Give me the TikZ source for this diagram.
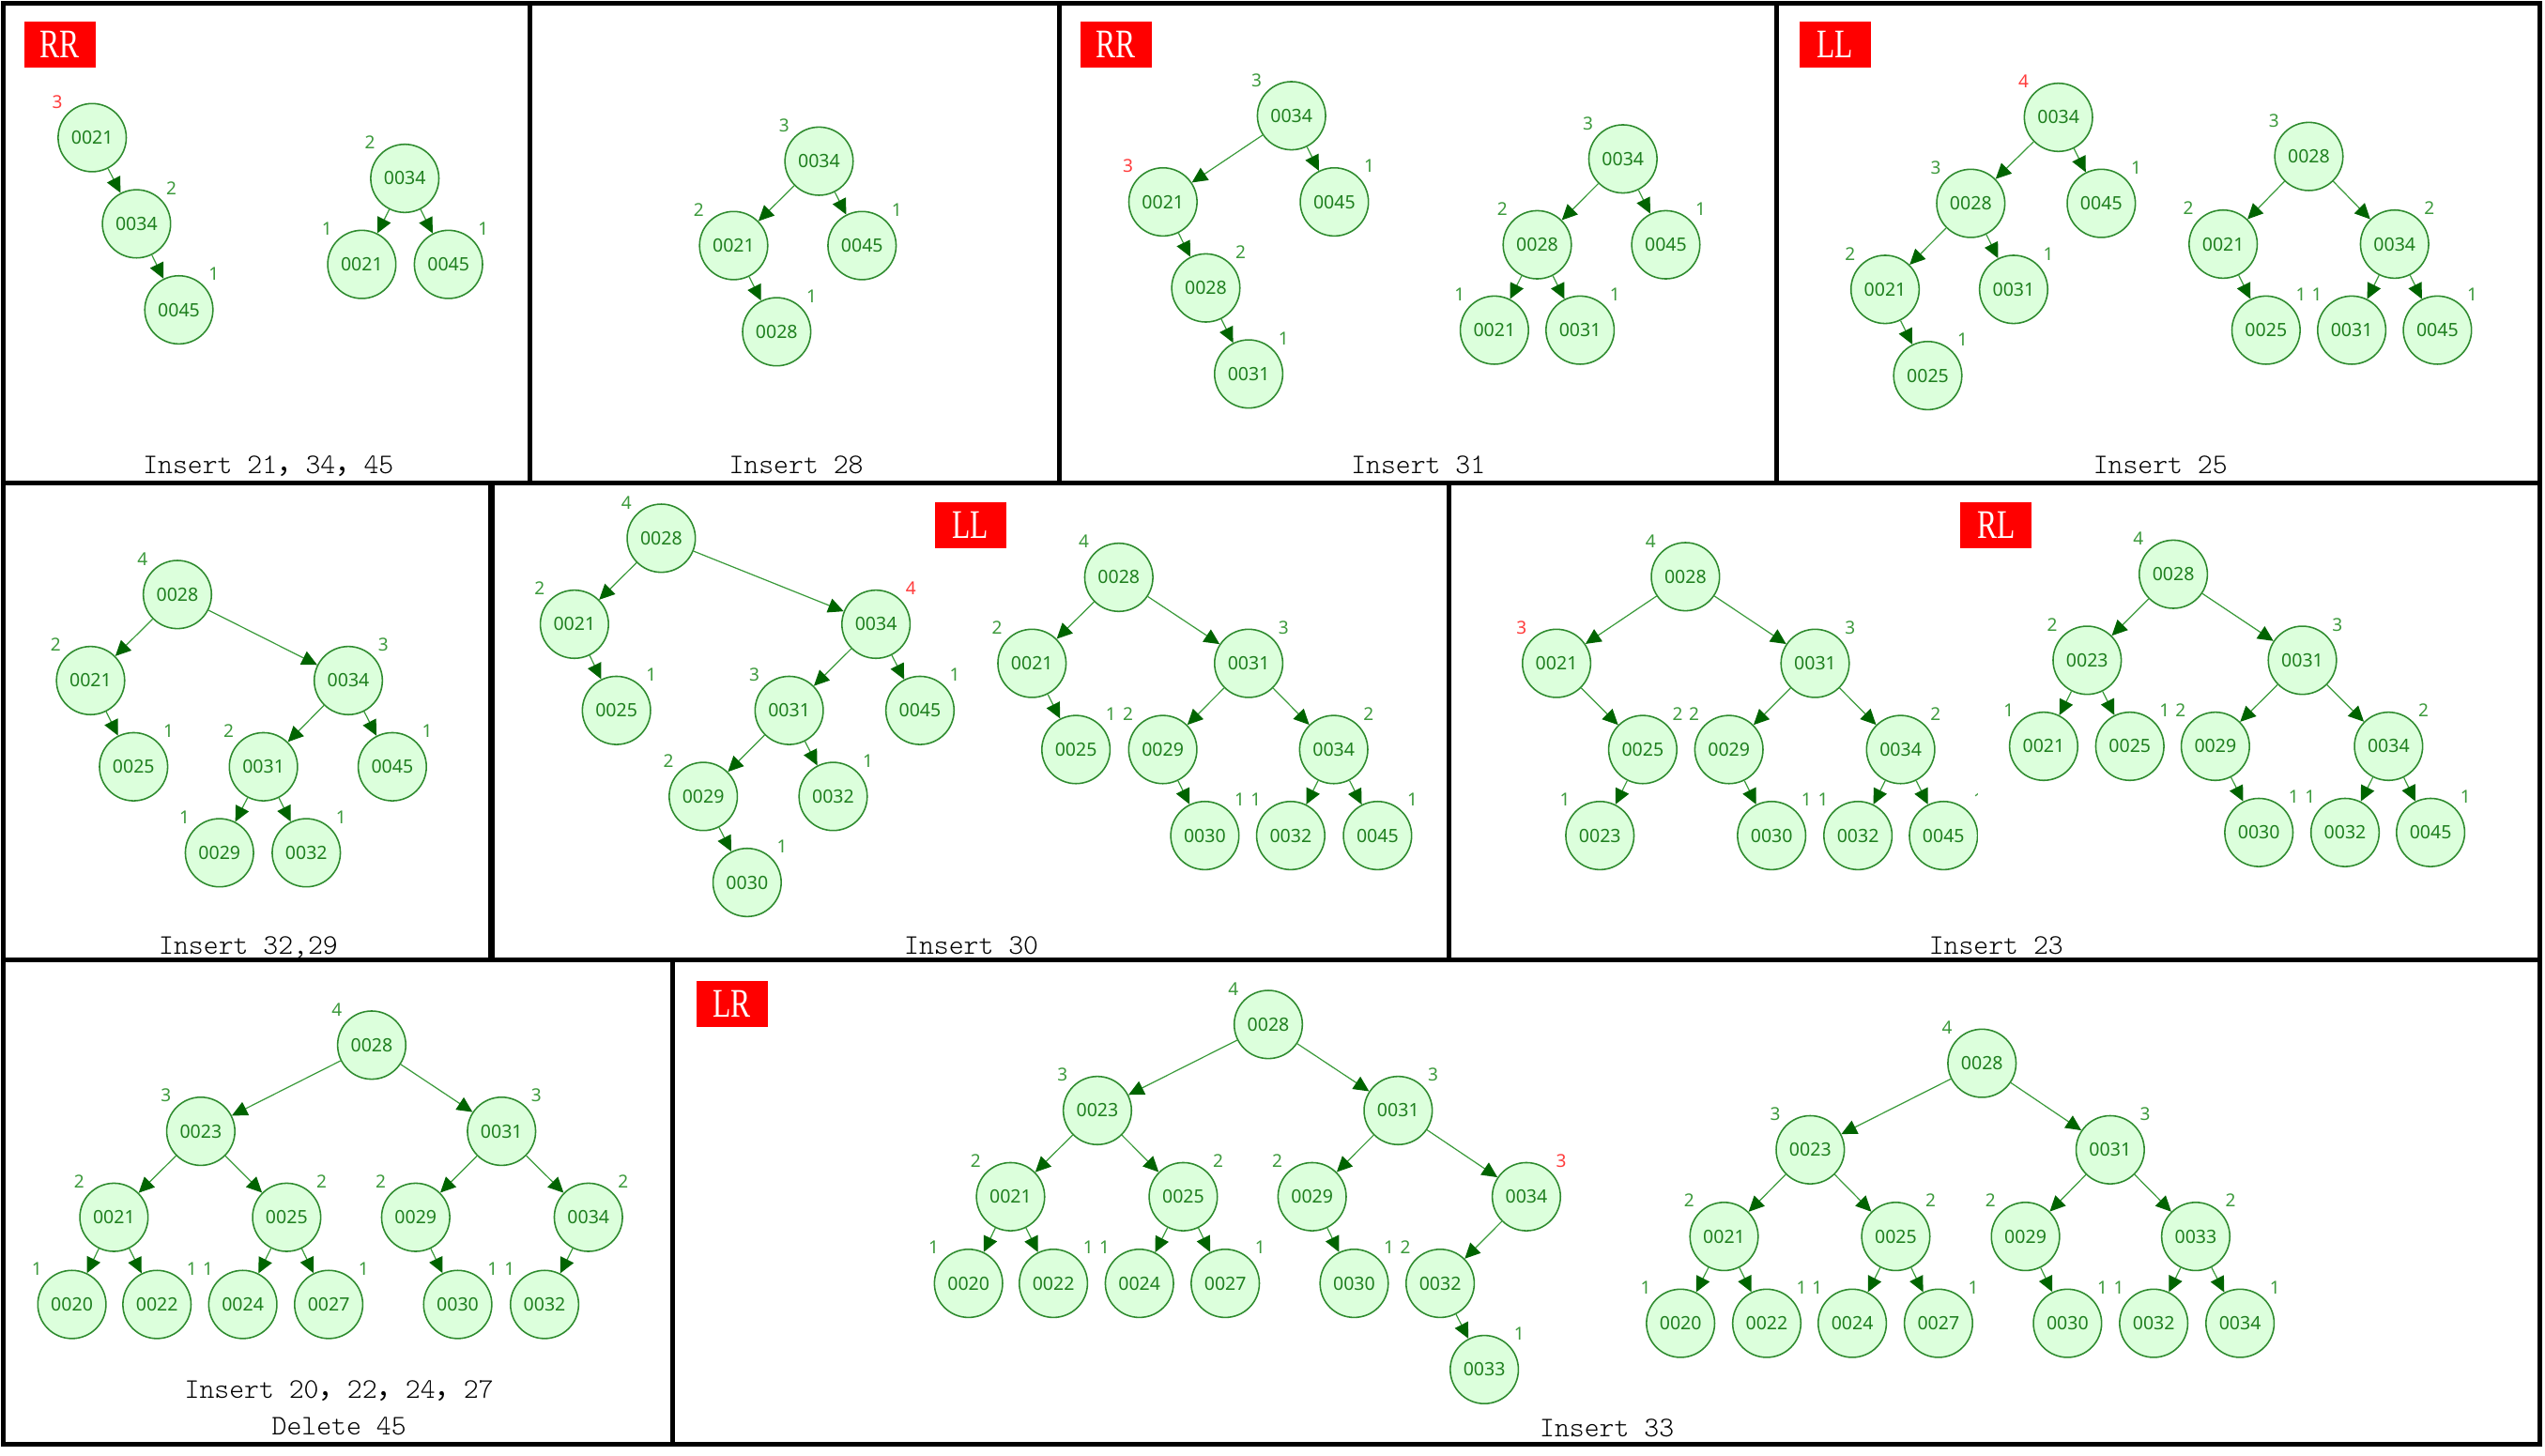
\documentclass[tikz,border=0pt]{standalone}
\usepackage{fontspec}
\newfontfamily\nodefont{Noto Sans}
\newfontfamily\cjkfont{Noto Sans CJK SC}
\newfontfamily\boxfont[FakeStretch=0.73]{Liberation Serif}
\newfontfamily\capfam{lmmonolt10-regular.otf}
\usetikzlibrary{arrows.meta}
\definecolor{nodefill}{HTML}{DCFFDC}
\definecolor{nodeborder}{HTML}{2E8B2E}
\definecolor{nodetext}{HTML}{1E7F1E}
\definecolor{edgegreen}{HTML}{3A9A3A}
\definecolor{arrowgreen}{HTML}{006400}
\definecolor{labgreen}{HTML}{3C9A3C}
\definecolor{labred}{HTML}{FF3C3C}
\definecolor{tagred}{HTML}{FF0000}
\newcommand\mycapfont{\capfam\fontsize{17.5}{20}\selectfont}
\newcommand\fwc{{\cjkfont\fontsize{17.5}{20}\selectfont ，}}
\newcommand\edg[2]{\draw[ed] (#1) -- (#2);}
\begin{document}
\begin{tikzpicture}[x=1pt,y=-1pt,
  tn/.style={circle,draw=nodeborder,fill=nodefill,line width=0.9pt,minimum size=42pt,inner sep=0pt,
    text=nodetext,font=\nodefont\fontsize{11.3}{12}\selectfont},
  ht/.style={inner sep=0pt,text=labgreen,font=\nodefont\fontsize{11}{12}\selectfont},
  hL/.style={label={[ht,xshift=-21.5pt,yshift=22pt]center:#1}},
  hR/.style={label={[ht,xshift=21.5pt,yshift=22pt]center:#1}},
  hLr/.style={label={[ht,text=labred,xshift=-21.5pt,yshift=22pt]center:#1}},
  hRr/.style={label={[ht,text=labred,xshift=21.5pt,yshift=22pt]center:#1}},
  ed/.style={draw=edgegreen,line width=0.7pt,-{Triangle[length=9.5pt,width=9pt,color=arrowgreen]}},
  tagbox/.style={fill=tagred,text=white,minimum width=44pt,minimum height=28.5pt,inner sep=0pt,
    font=\boxfont\fontsize{25}{25}\selectfont},
  captext/.style={anchor=base,inner sep=0pt,font=\mycapfont},
  panel/.style={draw=black,line width=3pt}
]
\useasboundingbox (0,0) rectangle (1568,896.5);
\fill[white] (0,0) rectangle (1568,896.5);

% ---------- panel frames ----------
\draw[panel] (2,1.8) rectangle (326.5,297.5);
\draw[panel] (326.5,1.8) rectangle (652.8,297.5);
\draw[panel] (652.8,1.8) rectangle (1094.8,297.5);
\draw[panel] (1094.8,1.8) rectangle (1565,297.5);
\draw[panel] (2,297.5) rectangle (302.5,591.5);
\draw[panel] (303.5,297.5) rectangle (892.5,591.5);
\draw[panel] (892.5,297.5) rectangle (1565,591.5);
\draw[panel] (2,591.5) rectangle (414.3,890);
\draw[panel] (414.3,591.5) rectangle (1565,890);

% ---------- tags ----------
\node[tagbox] (t1) at (36.8,27.5) {RR};
\node[tagbox] (t3) at (687.5,27.5) {RR};
\node[tagbox] (t4) at (1130.5,27.5) {LL};
\node[tagbox] (t6) at (597.9,323.5) {LL};
\node[tagbox] (t7) at (1229.8,323.5) {RL};
\node[tagbox] (t9) at (450.9,618.5) {LR};

% ---------- captions ----------
\node[captext] (c1) at (165.3,292) {Insert 21\fwc 34\fwc 45};
\node[captext] (c2) at (490.5,292) {Insert 28};
\node[captext] (c3) at (873.8,292) {Insert 31};
\node[captext] (c4) at (1331,292) {Insert 25};
\node[captext] (c5) at (153,588) {Insert 32,29};
\node[captext] (c6) at (598.4,588) {Insert 30};
\node[captext] (c7) at (1229.8,588) {Insert 23};
\node[captext] (c8) at (208.9,861.7) {Insert 20\fwc 22\fwc 24\fwc 27};
\node[captext] (c8b) at (208.9,884) {Delete 45};
\node[captext] (c9) at (990,885) {Insert 33};

% ---------- panel 1 ----------
\node[tn,hLr=3] (p1a) at (56.8,84.8) {0021};
\node[tn,hR=2] (p1b) at (84.1,137.9) {0034};
\node[tn,hR=1] (p1c) at (110.2,190.9) {0045};
\node[tn,hL=2] (p1d) at (249.4,109.9) {0034};
\node[tn,hL=1] (p1e) at (222.9,162.9) {0021};
\node[tn,hR=1] (p1f) at (276.3,162.9) {0045};
\edg{p1a}{p1b}\edg{p1b}{p1c}\edg{p1d}{p1e}\edg{p1d}{p1f}

% ---------- panel 2 ----------
\node[tn,hL=3] (p2a) at (504.6,99.3) {0034};
\node[tn,hL=2] (p2b) at (452.0,151.3) {0021};
\node[tn,hR=1] (p2c) at (531.1,151.3) {0045};
\node[tn,hR=1] (p2d) at (478.5,204.4) {0028};
\edg{p2a}{p2b}\edg{p2a}{p2c}\edg{p2b}{p2d}

% ---------- panel 3 ----------
\node[tn,hL=3] (p3a) at (795.7,71.3) {0034};
\node[tn,hLr=3] (p3b) at (716.5,124.4) {0021};
\node[tn,hR=1] (p3c) at (822.1,124.4) {0045};
\node[tn,hR=2] (p3d) at (742.9,177.4) {0028};
\node[tn,hR=1] (p3e) at (769.3,230.4) {0031};
\edg{p3a}{p3b}\edg{p3a}{p3c}\edg{p3b}{p3d}\edg{p3d}{p3e}
\node[tn,hL=3] (p3f) at (999.9,97.9) {0034};
\node[tn,hL=2] (p3g) at (947.1,150.8) {0028};
\node[tn,hR=1] (p3h) at (1026.3,150.8) {0045};
\node[tn,hL=1] (p3i) at (920.7,203.4) {0021};
\node[tn,hR=1] (p3j) at (973.5,203.4) {0031};
\edg{p3f}{p3g}\edg{p3f}{p3h}\edg{p3g}{p3i}\edg{p3g}{p3j}

% ---------- panel 4 ----------
\node[tn,hLr=4] (p4a) at (1268.2,72.3) {0034};
\node[tn,hL=3] (p4b) at (1214.2,125.3) {0028};
\node[tn,hR=1] (p4c) at (1294.6,125.3) {0045};
\node[tn,hL=2] (p4d) at (1161.4,178.3) {0021};
\node[tn,hR=1] (p4e) at (1240.6,178.3) {0031};
\node[tn,hR=1] (p4f) at (1187.7,231.4) {0025};
\edg{p4a}{p4b}\edg{p4a}{p4c}\edg{p4b}{p4d}\edg{p4b}{p4e}\edg{p4d}{p4f}
\node[tn,hL=3] (p4g) at (1422.5,96.4) {0028};
\node[tn,hL=2] (p4h) at (1369.7,150.4) {0021};
\node[tn,hR=2] (p4i) at (1475.3,150.4) {0034};
\node[tn,hR=1] (p4j) at (1396.1,203.4) {0025};
\node[tn,hL=1] (p4k) at (1448.9,203.4) {0031};
\node[tn,hR=1] (p4l) at (1501.7,203.4) {0045};
\edg{p4g}{p4h}\edg{p4g}{p4i}\edg{p4h}{p4j}\edg{p4i}{p4k}\edg{p4i}{p4l}

% ---------- panel 5 ----------
\node[tn,hL=4] (p5a) at (109.3,366.3) {0028};
\node[tn,hL=2] (p5b) at (55.8,419.3) {0021};
\node[tn,hR=3] (p5c) at (214.6,419.3) {0034};
\node[tn,hR=1] (p5d) at (82.3,472.4) {0025};
\node[tn,hL=2] (p5e) at (162.3,472.4) {0031};
\node[tn,hR=1] (p5f) at (241.7,472.4) {0045};
\node[tn,hL=1] (p5g) at (135.2,525.4) {0029};
\node[tn,hR=1] (p5h) at (188.7,525.4) {0032};
\edg{p5a}{p5b}\edg{p5a}{p5c}\edg{p5b}{p5d}\edg{p5c}{p5e}\edg{p5c}{p5f}\edg{p5e}{p5g}\edg{p5e}{p5h}

% ---------- panel 6 ----------
\node[tn,hL=4] (p6a) at (407.4,331.6) {0028};
\node[tn,hL=2] (p6b) at (353.9,384.6) {0021};
\node[tn,hRr=4] (p6c) at (539.7,384.6) {0034};
\node[tn,hR=1] (p6d) at (379.8,437.7) {0025};
\node[tn,hL=3] (p6e) at (486.2,437.7) {0031};
\node[tn,hR=1] (p6f) at (566.8,437.7) {0045};
\node[tn,hL=2] (p6g) at (433.3,490.7) {0029};
\node[tn,hR=1] (p6h) at (513.3,490.7) {0032};
\node[tn,hR=1] (p6i) at (460.3,543.7) {0030};
\edg{p6a}{p6b}\edg{p6a}{p6c}\edg{p6b}{p6d}\edg{p6c}{p6e}\edg{p6c}{p6f}\edg{p6e}{p6g}\edg{p6e}{p6h}\edg{p6g}{p6i}
\node[tn,hL=4] (p6j) at (689.3,355.7) {0028};
\node[tn,hL=2] (p6k) at (635.8,408.7) {0021};
\node[tn,hR=3] (p6l) at (769.3,408.7) {0031};
\node[tn,hR=1] (p6m) at (662.9,461.8) {0025};
\node[tn,hL=2] (p6n) at (716.4,461.8) {0029};
\node[tn,hR=2] (p6o) at (821.7,461.8) {0034};
\node[tn,hR=1] (p6p) at (742.3,514.8) {0030};
\node[tn,hL=1] (p6q) at (795.2,514.8) {0032};
\node[tn,hR=1] (p6r) at (848.7,514.8) {0045};
\edg{p6j}{p6k}\edg{p6j}{p6l}\edg{p6k}{p6m}\edg{p6l}{p6n}\edg{p6l}{p6o}\edg{p6n}{p6p}\edg{p6o}{p6q}\edg{p6o}{p6r}

% ---------- panel 7 ----------
\begin{scope}
\clip (894,299) rectangle (1218.5,590);
\node[tn,hL=4] (p7a) at (1038.4,355.3) {0028};
\node[tn,hLr=3] (p7b) at (959.0,408.7) {0021};
\node[tn,hR=3] (p7c) at (1118.3,408.7) {0031};
\node[tn,hR=2] (p7d) at (1012.1,461.8) {0025};
\node[tn,hL=2] (p7e) at (1065.2,461.8) {0029};
\node[tn,hR=2] (p7f) at (1171.0,461.8) {0034};
\node[tn,hL=1] (p7g) at (985.7,514.8) {0023};
\node[tn,hR=1] (p7h) at (1091.5,514.8) {0030};
\node[tn,hL=1] (p7i) at (1144.7,514.8) {0032};
\node[tn,hR=1] (p7j) at (1197.4,514.8) {0045};
\edg{p7a}{p7b}\edg{p7a}{p7c}\edg{p7b}{p7d}\edg{p7d}{p7g}\edg{p7c}{p7e}\edg{p7c}{p7f}\edg{p7e}{p7h}\edg{p7f}{p7i}\edg{p7f}{p7j}
\end{scope}
\node[tn,hL=4] (p7k) at (1339.0,353.8) {0028};
\node[tn,hL=2] (p7l) at (1285.9,406.8) {0023};
\node[tn,hR=3] (p7m) at (1418.5,406.8) {0031};
\node[tn,hL=1] (p7n) at (1259.1,459.8) {0021};
\node[tn,hR=1] (p7o) at (1312.2,459.8) {0025};
\node[tn,hL=2] (p7p) at (1364.9,459.8) {0029};
\node[tn,hR=2] (p7q) at (1471.6,459.8) {0034};
\node[tn,hR=1] (p7r) at (1391.7,512.9) {0030};
\node[tn,hL=1] (p7s) at (1444.8,512.9) {0032};
\node[tn,hR=1] (p7t) at (1497.5,512.9) {0045};
\edg{p7k}{p7l}\edg{p7k}{p7m}\edg{p7l}{p7n}\edg{p7l}{p7o}\edg{p7m}{p7p}\edg{p7m}{p7q}\edg{p7p}{p7r}\edg{p7q}{p7s}\edg{p7q}{p7t}

% ---------- panel 8 ----------
\node[tn,hL=4] (p8a) at (229.0,643.9) {0028};
\node[tn,hL=3] (p8b) at (123.7,697.0) {0023};
\node[tn,hR=3] (p8c) at (309.0,697.0) {0031};
\node[tn,hL=2] (p8d) at (70.2,750.0) {0021};
\node[tn,hR=2] (p8e) at (176.6,750.0) {0025};
\node[tn,hL=2] (p8f) at (256.1,750.0) {0029};
\node[tn,hR=2] (p8g) at (362.5,750.0) {0034};
\node[tn,hL=1] (p8h) at (44.3,803.7) {0020};
\node[tn,hR=1] (p8i) at (96.7,803.7) {0022};
\node[tn,hL=1] (p8j) at (149.6,803.7) {0024};
\node[tn,hR=1] (p8k) at (202.5,803.7) {0027};
\node[tn,hR=1] (p8l) at (282.0,803.7) {0030};
\node[tn,hL=1] (p8m) at (335.5,803.7) {0032};
\edg{p8a}{p8b}\edg{p8a}{p8c}\edg{p8b}{p8d}\edg{p8b}{p8e}\edg{p8c}{p8f}\edg{p8c}{p8g}
\edg{p8d}{p8h}\edg{p8d}{p8i}\edg{p8e}{p8j}\edg{p8e}{p8k}\edg{p8f}{p8l}\edg{p8g}{p8m}

% ---------- panel 9 ----------
\node[tn,hL=4] (p9a) at (781.4,631.2) {0028};
\node[tn,hL=3] (p9b) at (676.1,684.2) {0023};
\node[tn,hR=3] (p9c) at (861.4,684.2) {0031};
\node[tn,hL=2] (p9d) at (622.6,737.3) {0021};
\node[tn,hR=2] (p9e) at (729.0,737.3) {0025};
\node[tn,hL=2] (p9f) at (808.4,737.3) {0029};
\node[tn,hRr=3] (p9g) at (940.4,737.3) {0034};
\node[tn,hL=1] (p9h) at (596.7,790.7) {0020};
\node[tn,hR=1] (p9i) at (649.0,790.7) {0022};
\node[tn,hL=1] (p9j) at (702.0,790.7) {0024};
\node[tn,hR=1] (p9k) at (754.9,790.7) {0027};
\node[tn,hR=1] (p9l) at (834.3,790.7) {0030};
\node[tn,hL=2] (p9m) at (887.3,790.7) {0032};
\node[tn,hR=1] (p9n) at (914.5,843.8) {0033};
\edg{p9a}{p9b}\edg{p9a}{p9c}\edg{p9b}{p9d}\edg{p9b}{p9e}\edg{p9c}{p9f}\edg{p9c}{p9g}
\edg{p9d}{p9h}\edg{p9d}{p9i}\edg{p9e}{p9j}\edg{p9e}{p9k}\edg{p9f}{p9l}\edg{p9g}{p9m}\edg{p9m}{p9n}
\node[tn,hL=4] (p9o) at (1221.1,655.1) {0028};
\node[tn,hL=3] (p9p) at (1115.3,708.4) {0023};
\node[tn,hR=3] (p9q) at (1300.1,708.4) {0031};
\node[tn,hL=2] (p9r) at (1062.2,761.8) {0021};
\node[tn,hR=2] (p9s) at (1168.0,761.8) {0025};
\node[tn,hL=2] (p9t) at (1247.9,761.8) {0029};
\node[tn,hR=2] (p9u) at (1352.8,761.8) {0033};
\node[tn,hL=1] (p9v) at (1035.4,815.3) {0020};
\node[tn,hR=1] (p9w) at (1088.5,815.3) {0022};
\node[tn,hL=1] (p9x) at (1141.2,815.3) {0024};
\node[tn,hR=1] (p9y) at (1194.3,815.3) {0027};
\node[tn,hR=1] (p9z) at (1273.8,815.3) {0030};
\node[tn,hL=1] (p9aa) at (1326.9,815.3) {0032};
\node[tn,hR=1] (p9ab) at (1380.1,815.3) {0034};
\edg{p9o}{p9p}\edg{p9o}{p9q}\edg{p9p}{p9r}\edg{p9p}{p9s}\edg{p9q}{p9t}\edg{p9q}{p9u}
\edg{p9r}{p9v}\edg{p9r}{p9w}\edg{p9s}{p9x}\edg{p9s}{p9y}\edg{p9t}{p9z}\edg{p9u}{p9aa}\edg{p9u}{p9ab}
\end{tikzpicture}
\end{document}
